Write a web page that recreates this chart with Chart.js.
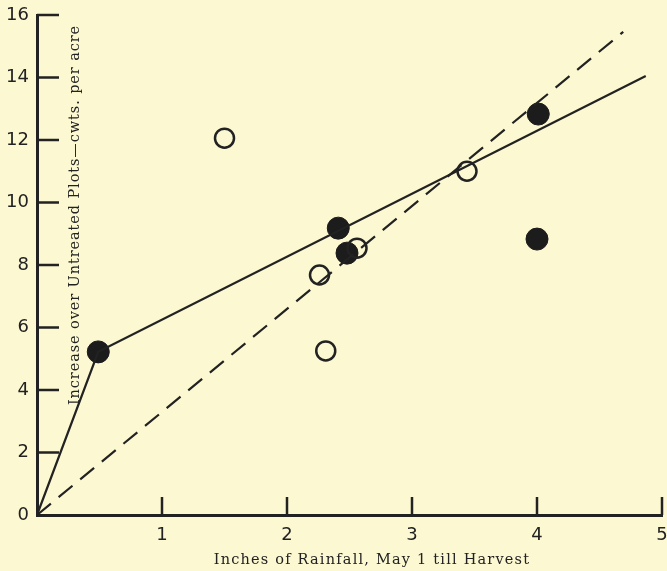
<!DOCTYPE html>
<html>
<head>
<meta charset="utf-8">
<script src="https://cdn.jsdelivr.net/npm/chart.js@4.4.0/dist/chart.umd.min.js"></script>
<style>
  body { margin: 0; background: #fbf8d2; }
  canvas { display: block; }
</style>
</head>
<body>
<canvas id="myChart" width="667" height="571"></canvas>
<script>
// data
const filledX = [0.49, 2.41, 2.48, 4.01, 4.0]
const filledY = [5.22, 9.18, 8.38, 12.83, 8.83]
const openX = [1.5, 2.26, 2.31, 2.56, 3.44]
const openY = [12.06, 7.68, 5.25, 8.54, 11.0]
const solidX = [0, 0.49, 4.87]
const solidY = [0, 5.22, 14.05]
const dashX = [0, 4.69]
const dashY = [0, 15.46]
const xTicks = [1, 2, 3, 4, 5]
const yTicks = [0, 2, 4, 6, 8, 10, 12, 14, 16]
const xTitle = 'Inches of Rainfall, May 1 till Harvest'
const yTitle = 'Increase over Untreated Plots\u2014cwts. per acre'

const ink = '#222'
const pts = (xs, ys) => xs.map((x, i) => ({x: x, y: ys[i]}))

// inward tick marks + axis titles (the y one sits inside the plot)
const extras = {
    id: 'extras',
    afterDraw(chart) {
        const c = chart.ctx
        const xs = chart.scales.x, ys = chart.scales.y
        c.save()
        c.strokeStyle = ink
        c.lineWidth = 2.5
        for (let v of yTicks) {
            if (v == 0) continue
            let py = ys.getPixelForValue(v)
            c.beginPath()
            c.moveTo(xs.left, py)
            c.lineTo(xs.left + 22, py)
            c.stroke()
        }
        for (let v of xTicks) {
            let px = xs.getPixelForValue(v)
            c.beginPath()
            c.moveTo(px, ys.bottom)
            c.lineTo(px, ys.bottom - 18)
            c.stroke()
        }
        c.fillStyle = ink
        c.font = '14.5px "DejaVu Serif"'
        c.letterSpacing = '1.2px'
        c.textAlign = 'center'
        c.textBaseline = 'middle'
        c.fillText(xTitle, 372, 560)
        c.letterSpacing = '0.9px'
        c.translate(75, 215)
        c.rotate(-Math.PI / 2)
        c.fillText(yTitle, 0, 0)
        c.restore()
    }
}

const ctx = document.getElementById('myChart').getContext('2d')
const myChart = new Chart(ctx, {
    type: 'scatter',
    data: {
        datasets: [{
            data: pts(solidX, solidY),
            showLine: true,
            borderColor: ink,
            borderWidth: 2.2,
            pointRadius: 0,
            clip: false
        }, {
            data: pts(dashX, dashY),
            showLine: true,
            borderColor: ink,
            borderWidth: 2.2,
            borderDash: [18, 10],
            pointRadius: 0,
            clip: false
        }, {
            data: pts(openX, openY),
            backgroundColor: 'rgba(0,0,0,0)',
            borderColor: ink,
            borderWidth: 2.5,
            pointRadius: 9.5,
            clip: false
        }, {
            data: pts(filledX, filledY),
            backgroundColor: '#1c1c1c',
            borderColor: '#1c1c1c',
            borderWidth: 1,
            pointRadius: 11,
            clip: false
        }]
    },
    options: {
        responsive: false,
        animation: false,
        layout: { autoPadding: false, padding: { top: 15, right: 5, left: 0, bottom: 0 } },
        plugins: { legend: { display: false }, tooltip: { enabled: false } },
        scales: {
            x: {
                type: 'linear',
                min: 0,
                max: 5,
                afterFit: s => { s.height = 56; s.paddingRight = 0 },
                afterBuildTicks: s => { s.ticks = xTicks.map(v => ({value: v})) },
                grid: { drawOnChartArea: false, drawTicks: false },
                border: { color: ink, width: 3 },
                ticks: {
                    color: ink,
                    padding: 10,
                    font: { family: '"DejaVu Sans"', size: 18 }
                }
            },
            y: {
                min: 0,
                max: 16,
                afterFit: s => { s.width = 37; s.paddingTop = 0 },
                afterBuildTicks: s => { s.ticks = yTicks.map(v => ({value: v})) },
                grid: { drawOnChartArea: false, drawTicks: false },
                border: { color: ink, width: 3 },
                ticks: {
                    color: ink,
                    padding: 8,
                    font: { family: '"DejaVu Sans"', size: 18 }
                }
            }
        }
    },
    plugins: [extras]
})
</script>
</body>
</html>
